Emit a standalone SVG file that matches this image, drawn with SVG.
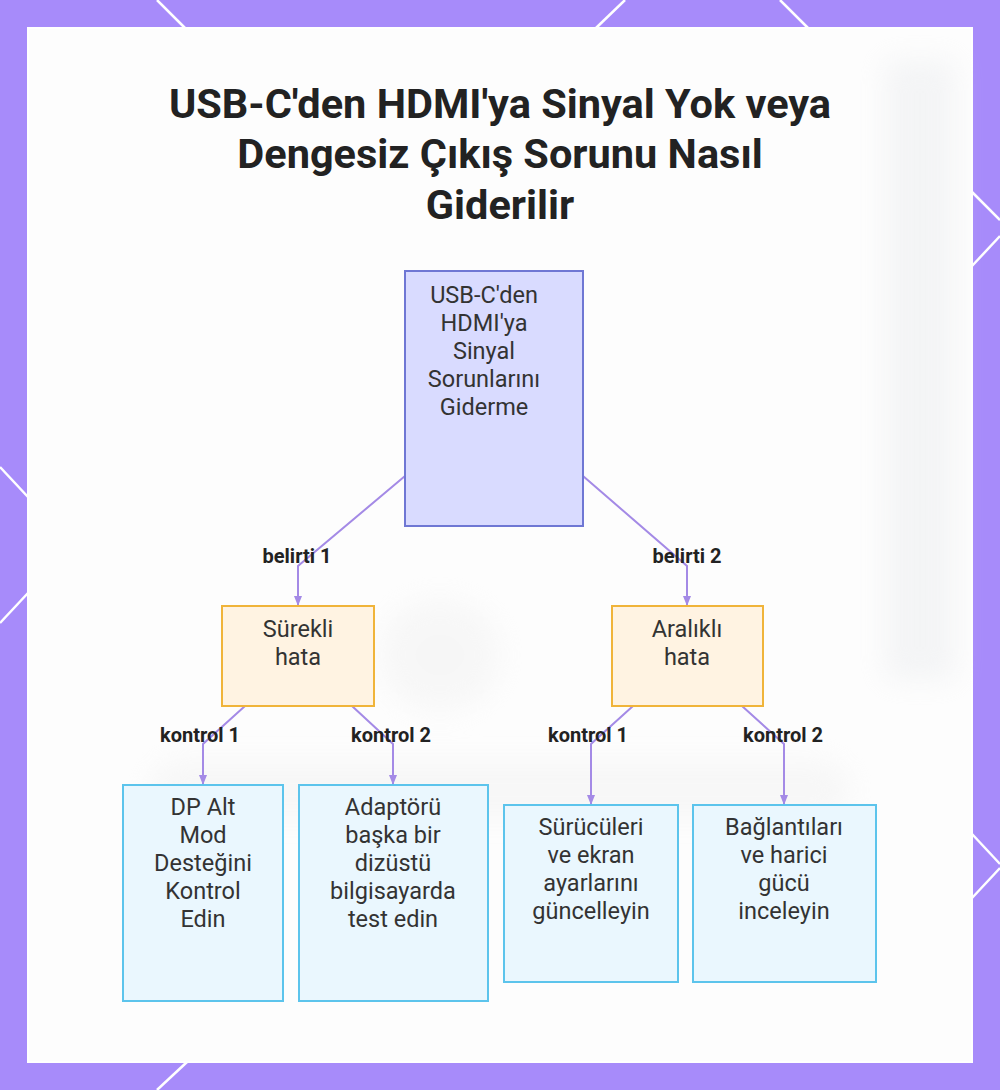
<svg xmlns="http://www.w3.org/2000/svg" width="1000" height="1090" viewBox="0 0 1000 1090">
  <style>
    .title { font-family: Roboto, "Liberation Sans", sans-serif; font-weight: 700; font-size: 41.5px; fill: #222222; text-anchor: middle; }
    .txt { font-family: Roboto, "Liberation Sans", sans-serif; font-size: 23.5px; fill: #333333; text-anchor: middle; }
    .lbl { font-family: Roboto, "Liberation Sans", sans-serif; font-weight: 700; font-size: 20px; fill: #222222; text-anchor: middle; }
    .root { fill: #d9dbff; stroke: #6f77d4; stroke-width: 2; }
    .mid { fill: #fff3e2; stroke: #f0b43a; stroke-width: 2; }
    .leaf { fill: #eaf7fe; stroke: #5cc4ec; stroke-width: 2; }
    .edge { fill: none; stroke: #a48ae6; stroke-width: 2; }
    .deco { stroke: #ffffff; stroke-width: 2.5; fill: none; }
  </style>
  <defs>
    <marker id="arr" viewBox="0 0 10 10" refX="9" refY="5" markerWidth="5" markerHeight="5" orient="auto">
      <path d="M0,1 L10,5 L0,9 z" fill="#a48ae6"/>
    </marker>
    <filter id="blur" x="-50%" y="-50%" width="200%" height="200%">
      <feGaussianBlur stdDeviation="14"/>
    </filter>
  </defs>

  <!-- frame -->
  <rect x="0" y="0" width="1000" height="1090" fill="#a78bfa"/>
  <g class="deco">
    <line x1="157" y1="0" x2="185" y2="28"/>
    <line x1="625" y1="0" x2="596" y2="28"/>
    <line x1="780" y1="0" x2="808" y2="28"/>
    <line x1="972" y1="192" x2="1000" y2="220"/>
    <line x1="1000" y1="236" x2="972" y2="266"/>
    <line x1="972" y1="834" x2="1000" y2="864"/>
    <line x1="1000" y1="868" x2="972" y2="898"/>
    <line x1="187" y1="1062" x2="157" y2="1090"/>
    <line x1="0" y1="467" x2="28" y2="497"/>
    <line x1="28" y1="593" x2="0" y2="623"/>
  </g>
  <rect x="28" y="28" width="944" height="1034" fill="#fdfdfd" stroke="#ffffff" stroke-width="2"/>

  <!-- faint blurred background -->
  <g filter="url(#blur)" opacity="0.4">
    <rect x="885" y="60" width="70" height="620" fill="#e6e8eb"/>
    <rect x="150" y="760" width="700" height="60" rx="30" fill="#eeeeee"/>
    <rect x="380" y="600" width="120" height="110" rx="55" fill="#eeeeee"/>
  </g>

  <!-- title -->
  <g id="title">
    <text class="title" x="500" y="118">USB-C'den HDMI'ya Sinyal Yok veya</text>
    <text class="title" x="500" y="168">Dengesiz Çıkış Sorunu Nasıl</text>
    <text class="title" x="500" y="219">Giderilir</text>
  </g>

  <!-- connectors -->
  <g id="connectors">
    <polyline class="edge" points="405,476 298,566 298,605" marker-end="url(#arr)"/>
    <polyline class="edge" points="583,476 687,566 687,605" marker-end="url(#arr)"/>
    <polyline class="edge" points="245,706 203,744 203,784" marker-end="url(#arr)"/>
    <polyline class="edge" points="352,706 393,744 393,784" marker-end="url(#arr)"/>
    <polyline class="edge" points="633,706 591,744 591,804" marker-end="url(#arr)"/>
    <polyline class="edge" points="742,706 784,744 784,804" marker-end="url(#arr)"/>
    <text class="lbl" x="297" y="563">belirti 1</text>
    <text class="lbl" x="687" y="563">belirti 2</text>
    <text class="lbl" x="200" y="742">kontrol 1</text>
    <text class="lbl" x="391" y="742">kontrol 2</text>
    <text class="lbl" x="588" y="742">kontrol 1</text>
    <text class="lbl" x="783" y="742">kontrol 2</text>
  </g>

  <!-- nodes -->
  <g id="root">
    <rect class="root" x="405" y="271" width="178" height="255"/>
    <text class="txt" x="484" y="303">USB-C'den</text>
    <text class="txt" x="484" y="331">HDMI'ya</text>
    <text class="txt" x="484" y="359">Sinyal</text>
    <text class="txt" x="484" y="387">Sorunlarını</text>
    <text class="txt" x="484" y="415">Giderme</text>
  </g>
  <g id="surekli">
    <rect class="mid" x="222" y="606" width="152" height="100"/>
    <text class="txt" x="298" y="637">Sürekli</text>
    <text class="txt" x="298" y="665">hata</text>
  </g>
  <g id="aralikli">
    <rect class="mid" x="612" y="606" width="151" height="100"/>
    <text class="txt" x="687" y="637">Aralıklı</text>
    <text class="txt" x="687" y="665">hata</text>
  </g>
  <g id="dpalt">
    <rect class="leaf" x="123" y="785" width="160" height="216"/>
    <text class="txt" x="203" y="815">DP Alt</text>
    <text class="txt" x="203" y="843">Mod</text>
    <text class="txt" x="203" y="871">Desteğini</text>
    <text class="txt" x="203" y="899">Kontrol</text>
    <text class="txt" x="203" y="927">Edin</text>
  </g>
  <g id="adaptor">
    <rect class="leaf" x="299" y="785" width="189" height="216"/>
    <text class="txt" x="393" y="815">Adaptörü</text>
    <text class="txt" x="393" y="843">başka bir</text>
    <text class="txt" x="393" y="871">dizüstü</text>
    <text class="txt" x="393" y="899">bilgisayarda</text>
    <text class="txt" x="393" y="927">test edin</text>
  </g>
  <g id="surucu">
    <rect class="leaf" x="504" y="805" width="174" height="177"/>
    <text class="txt" x="591" y="835">Sürücüleri</text>
    <text class="txt" x="591" y="863">ve ekran</text>
    <text class="txt" x="591" y="891">ayarlarını</text>
    <text class="txt" x="591" y="919">güncelleyin</text>
  </g>
  <g id="baglanti">
    <rect class="leaf" x="693" y="805" width="183" height="177"/>
    <text class="txt" x="784" y="835">Bağlantıları</text>
    <text class="txt" x="784" y="863">ve harici</text>
    <text class="txt" x="784" y="891">gücü</text>
    <text class="txt" x="784" y="919">inceleyin</text>
  </g>
</svg>
